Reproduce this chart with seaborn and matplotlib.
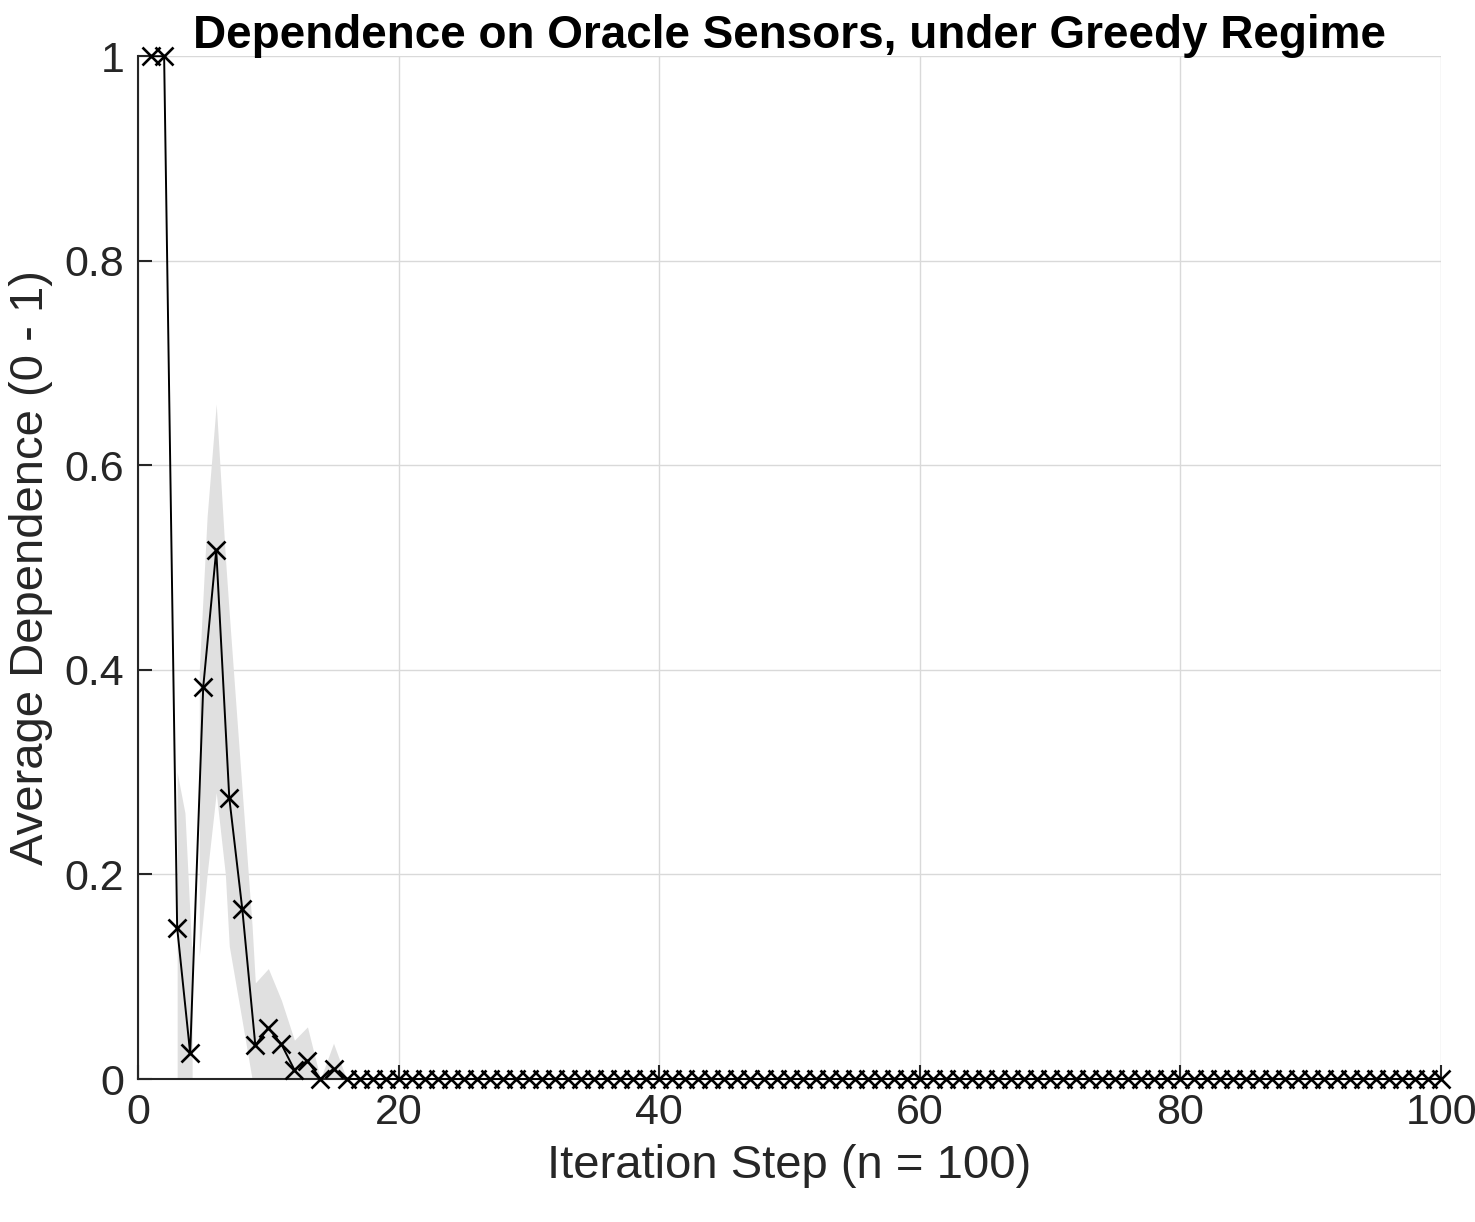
import numpy as np
import pandas as pd
import matplotlib
matplotlib.use("Agg")
import matplotlib.pyplot as plt
import seaborn as sns

# average dependence per iteration step
steps = list(range(1, 101))
mean_dep = [1.0, 1.0, 0.148, 0.025, 0.383, 0.517, 0.275, 0.166, 0.033, 0.050,
            0.034, 0.009, 0.018, 0.0, 0.010, 0.0, 0.0, 0.0, 0.0, 0.0,
            0.0, 0.0, 0.0, 0.0, 0.0, 0.0, 0.0, 0.0, 0.0, 0.0,
            0.0, 0.0, 0.0, 0.0, 0.0, 0.0, 0.0, 0.0, 0.0, 0.0,
            0.0, 0.0, 0.0, 0.0, 0.0, 0.0, 0.0, 0.0, 0.0, 0.0,
            0.0, 0.0, 0.0, 0.0, 0.0, 0.0, 0.0, 0.0, 0.0, 0.0,
            0.0, 0.0, 0.0, 0.0, 0.0, 0.0, 0.0, 0.0, 0.0, 0.0,
            0.0, 0.0, 0.0, 0.0, 0.0, 0.0, 0.0, 0.0, 0.0, 0.0,
            0.0, 0.0, 0.0, 0.0, 0.0, 0.0, 0.0, 0.0, 0.0, 0.0,
            0.0, 0.0, 0.0, 0.0, 0.0, 0.0, 0.0, 0.0, 0.0, 0.0]

# shaded spread band outline
band_x = [3.0, 3.6, 4.1, 4.15, 4.15, 4.7, 4.7, 5.3, 6.0, 6.7, 7.0, 8.0, 8.75,
          9.0, 10.0, 11.0, 12.0, 13.0, 14.0, 15.0, 16.0]
band_lo = [0.0, 0.0, 0.0, 0.0, 0.0, 0.0, 0.12, 0.20, 0.28, 0.20, 0.13, 0.056, 0.0,
           0.0, 0.0, 0.0, 0.0, 0.0, 0.0, 0.0, 0.0]
band_hi = [0.30, 0.26, 0.13, 0.13, 0.0, 0.0, 0.40, 0.55, 0.66, 0.51, 0.455, 0.28, 0.15,
           0.094, 0.108, 0.077, 0.038, 0.051, 0.0, 0.035, 0.0]

x_ticks = [0, 20, 40, 60, 80, 100]
y_ticks = [0, 0.2, 0.4, 0.6, 0.8, 1]
y_tick_labels = ["0", "0.2", "0.4", "0.6", "0.8", "1"]

sns.set_theme(style="whitegrid")
plt.rcParams["font.family"] = ["Liberation Sans", "DejaVu Sans"]

df = pd.DataFrame({"step": steps, "dep": mean_dep})

fig = plt.figure(figsize=(14.75, 12.22), dpi=100)
ax = fig.add_axes([0.0936, 0.117, 0.8834, 0.837])

ax.fill_between(band_x, band_lo, band_hi, color="#e0e0e0", linewidth=0, zorder=1)
sns.lineplot(data=df, x="step", y="dep", ax=ax, color="black", linewidth=1.4,
             marker="x", markersize=13, markeredgewidth=1.9, markeredgecolor="black",
             zorder=3, clip_on=False)

ax.set_xlim(0, 100)
ax.set_ylim(0, 1)
ax.set_xticks(x_ticks)
ax.set_yticks(y_ticks)
ax.set_yticklabels(y_tick_labels)

ax.grid(True, color="#d9d9d9", linewidth=1.0)
ax.set_axisbelow(True)
for side in ["top", "right"]:
    ax.spines[side].set_visible(False)
for side in ["left", "bottom"]:
    ax.spines[side].set_color("#262626")
    ax.spines[side].set_linewidth(1.5)

ax.tick_params(axis="both", direction="in", length=10, width=1.5, color="#262626",
               labelsize=31, labelcolor="#262626", pad=10,
               left=True, bottom=True)

ax.set_xlabel("Iteration Step (n = 100)", fontsize=34, color="#262626", labelpad=8)
ax.set_ylabel("Average Dependence (0 - 1)", fontsize=34, color="#262626", labelpad=8)
ax.set_title("Dependence on Oracle Sensors, under Greedy Regime", fontsize=33,
             fontweight="bold", color="black", pad=6)

fig.savefig("out.png", dpi=100)
